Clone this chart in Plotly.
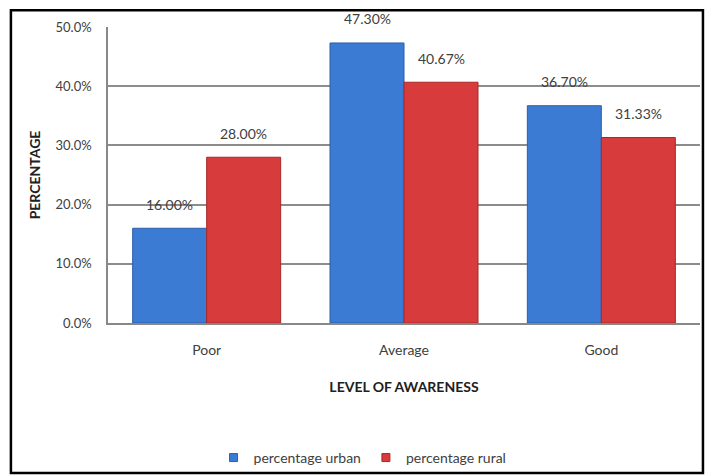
import plotly.graph_objects as go

categories = ["Poor", "Average", "Good"]
urban = [0.16, 0.473, 0.367]
rural = [0.28, 0.4067, 0.3133]
urban_labels = ["16.00%", "47.30%", "36.70%"]
rural_labels = ["28.00%", "40.67%", "31.33%"]
y_ticks = [0, 0.1, 0.2, 0.3, 0.4, 0.5]

FONT = "Lato, Liberation Sans, Arial"
BLUE = "#3b7bd4"
RED = "#d83b3b"

fig = go.Figure()
fig.add_trace(go.Bar(
    x=categories, y=urban, name="percentage urban", showlegend=False,
    marker=dict(color=BLUE, line=dict(color="#2a5fa8", width=1)),
))
fig.add_trace(go.Bar(
    x=categories, y=rural, name="percentage rural", showlegend=False,
    marker=dict(color=RED, line=dict(color="#a82828", width=1)),
))
# legend entries with small square markers
fig.add_trace(go.Scatter(x=[None], y=[None], mode="markers", name="percentage urban",
                         marker=dict(symbol="square", size=8, color=BLUE,
                                     line=dict(color="#2a5fa8", width=1))))
fig.add_trace(go.Scatter(x=[None], y=[None], mode="markers", name="percentage rural",
                         marker=dict(symbol="square", size=8, color=RED,
                                     line=dict(color="#a82828", width=1))))

for i, c in enumerate(categories):
    fig.add_annotation(x=c, y=urban[i], text=urban_labels[i], showarrow=False,
                       xshift=-37, yshift=24, font=dict(size=14, color="#404040", family=FONT))
    fig.add_annotation(x=c, y=rural[i], text=rural_labels[i], showarrow=False,
                       xshift=37, yshift=24, font=dict(size=14, color="#404040", family=FONT))

# outer border
fig.add_shape(type="rect", xref="paper", yref="paper",
              x0=-0.164, x1=1.005, y0=-0.507, y1=1.057,
              line=dict(color="black", width=2.5), layer="above")

fig.update_layout(
    width=712, height=476,
    margin=dict(l=108, r=12, t=27, b=153, autoexpand=False),
    paper_bgcolor="white", plot_bgcolor="white",
    barmode="group", bargap=0.25, bargroupgap=0,
    font=dict(family=FONT, color="#404040", size=13),
    showlegend=True,
    legend=dict(orientation="h", x=0.43, xanchor="center", y=-0.456, yanchor="middle",
                bgcolor="rgba(0,0,0,0)", itemwidth=30,
                font=dict(size=14, color="#404040"), itemsizing="trace", traceorder="normal"),
    xaxis=dict(
        automargin=False,
        showline=True, linecolor="#888888", linewidth=1.5,
        ticks="", tickfont=dict(size=14, color="#404040"), ticklabelstandoff=13,
        title=dict(text="<b>LEVEL OF AWARENESS</b>", font=dict(size=14, color="#202020"), standoff=26),
    ),
    yaxis=dict(
        automargin=False,
        range=[0, 0.5], tickvals=y_ticks, tickformat=".1%",
        showgrid=True, gridcolor="#8c8c8c", gridwidth=1.5,
        showline=True, linecolor="#888888", linewidth=1.5,
        zeroline=False, ticks="", tickfont=dict(size=13, color="#404040"), ticklabelstandoff=12,
        title=dict(text="<b>PERCENTAGE</b>", font=dict(size=14, color="#202020"), standoff=12),
    ),
)

fig.write_html("out.html")
